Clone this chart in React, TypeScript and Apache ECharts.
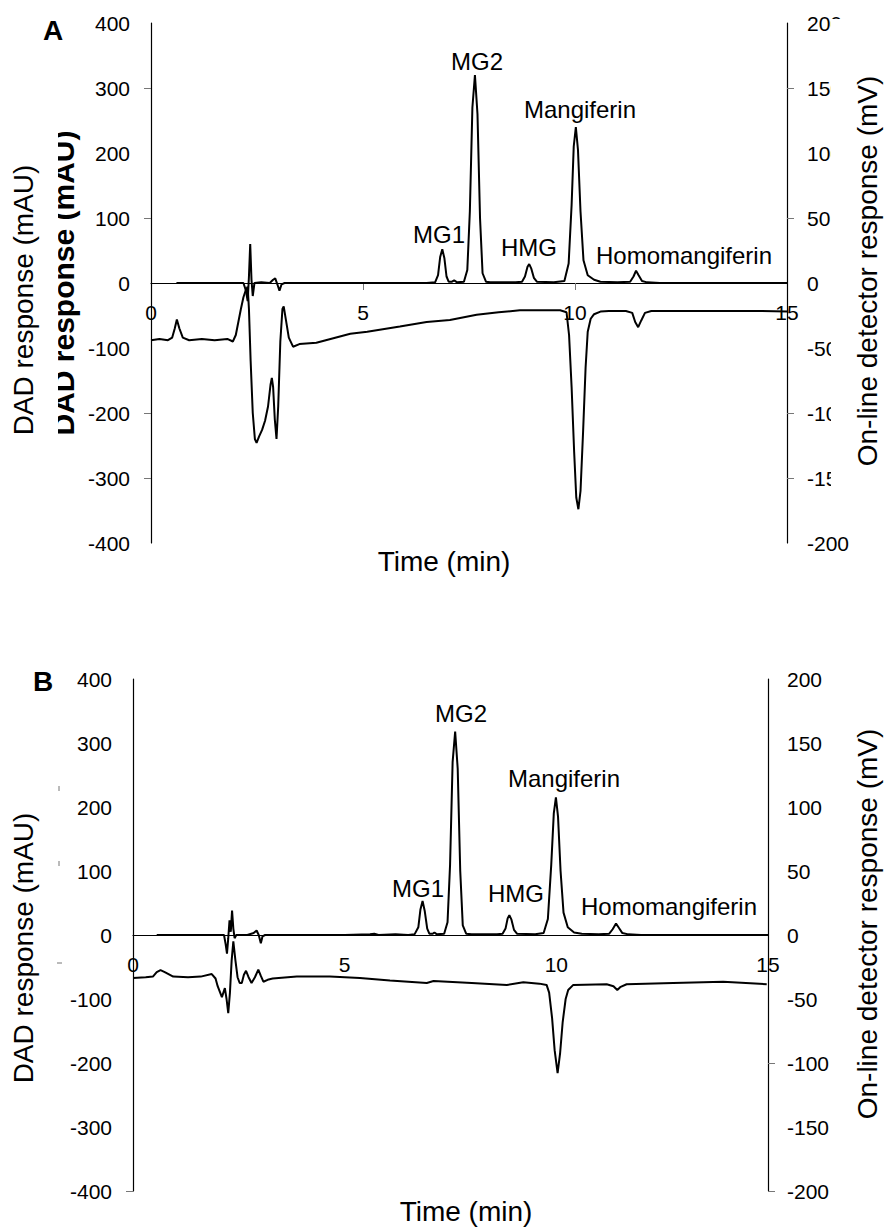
import React, { useEffect, useRef } from "react";
import * as echarts from "echarts";

// Panel A – DAD response (mAU), left axis
const dadA: [number, number][] = [
  [0.6, 0], [1.0, 0], [1.5, 0], [2.0, 0], [2.18, 0], [2.24, -12], [2.28, -28], [2.31, 10], [2.34, 60],
  [2.37, 5], [2.4, -20], [2.44, 0], [2.6, 1], [2.8, 0], [2.88, 5], [2.93, 7], [2.98, -2], [3.03, -12],
  [3.08, -2], [3.15, 0], [4, 0], [5, 0], [6, 0], [6.5, 0], [6.7, 1], [6.77, 12], [6.82, 40], [6.87, 52],
  [6.92, 38], [6.97, 10], [7.02, 2], [7.1, 2], [7.15, 4], [7.22, 1], [7.38, 2], [7.46, 20], [7.52, 110],
  [7.58, 270], [7.64, 320], [7.7, 260], [7.76, 100], [7.82, 15], [7.9, 2], [8.0, 1], [8.6, 1], [8.75, 2],
  [8.82, 10], [8.88, 25], [8.92, 29], [8.97, 22], [9.03, 8], [9.1, 2], [9.5, 1], [9.75, 3], [9.85, 30],
  [9.92, 120], [9.97, 210], [10.02, 240], [10.07, 205], [10.13, 110], [10.2, 35], [10.3, 12], [10.45, 5],
  [10.6, 2], [11.0, 1], [11.3, 2], [11.38, 10], [11.44, 19], [11.5, 12], [11.58, 3], [11.7, 1], [12, 0],
  [13, 0], [14, 0], [15, 0],
];

// Panel A – on-line detector response (mV), right axis
const detA: [number, number][] = [
  [0, -44], [0.2, -43], [0.4, -44], [0.5, -42], [0.56, -35], [0.61, -28], [0.67, -35], [0.75, -42],
  [0.9, -44], [1.2, -43], [1.5, -44], [1.8, -43], [1.93, -45], [2.0, -40], [2.06, -30], [2.12, -20],
  [2.18, -11], [2.24, -5], [2.28, -3], [2.31, -20], [2.35, -60], [2.4, -100], [2.45, -120], [2.49, -123],
  [2.55, -118], [2.62, -113], [2.69, -106], [2.76, -95], [2.82, -78], [2.85, -73], [2.88, -80], [2.92, -105],
  [2.96, -120], [3.0, -95], [3.05, -45], [3.1, -20], [3.13, -18], [3.18, -28], [3.25, -42], [3.35, -49],
  [3.5, -47], [3.9, -46], [4.3, -42.5], [4.7, -39], [5.1, -37.5], [5.87, -33.5], [6.5, -30], [7.05, -28.5],
  [7.68, -24.5], [8.2, -22.5], [8.7, -21], [9.2, -21], [9.65, -21], [9.8, -22.5], [9.86, -40], [9.92, -80],
  [9.98, -130], [10.03, -165], [10.08, -174], [10.13, -160], [10.19, -115], [10.25, -65], [10.3, -37.5],
  [10.37, -27.5], [10.45, -24], [10.6, -22], [10.8, -21.5], [11.2, -21.5], [11.35, -23], [11.42, -30],
  [11.49, -34], [11.56, -29], [11.65, -23], [11.8, -21.5], [12.5, -21.5], [13.5, -21.5], [14.3, -21.5],
  [15, -22],
];

// Panel B – DAD response (mAU), left axis
const dadB: [number, number][] = [
  [0.56, 0], [1.0, 0], [1.5, 0], [2.0, 0], [2.15, 0], [2.19, -15], [2.22, -29], [2.25, -5], [2.28, 23],
  [2.31, 5], [2.34, 38], [2.37, 10], [2.4, -5], [2.44, 0], [2.7, 0], [2.85, 3], [2.92, 7], [2.97, 0],
  [3.02, -13], [3.06, -2], [3.12, 0], [4, 0], [5, 0], [5.6, 1], [5.7, 2], [5.8, 0], [6.2, 1], [6.5, 0],
  [6.65, 1], [6.74, 12], [6.79, 40], [6.84, 53], [6.89, 38], [6.95, 10], [7.0, 2], [7.08, 2], [7.12, 4],
  [7.18, 1], [7.35, 2], [7.43, 20], [7.49, 110], [7.55, 270], [7.61, 318], [7.67, 260], [7.73, 100],
  [7.79, 15], [7.87, 2], [8.0, 1], [8.6, 1], [8.73, 2], [8.8, 10], [8.85, 26], [8.89, 31], [8.94, 24],
  [9.0, 8], [9.07, 2], [9.5, 1], [9.7, 3], [9.8, 25], [9.88, 110], [9.94, 190], [9.99, 215], [10.04, 185],
  [10.1, 100], [10.17, 35], [10.27, 12], [10.42, 4], [10.6, 2], [11.0, 1], [11.25, 2], [11.33, 9],
  [11.41, 18], [11.48, 11], [11.56, 3], [11.7, 1], [12, 0], [13, 0], [14, 0], [15, 0],
];

// Panel B – on-line detector response (mV), right axis
const detB: [number, number][] = [
  [0, -33.5], [0.3, -33], [0.47, -32.5], [0.56, -29], [0.65, -27.5], [0.75, -29], [0.95, -32.5], [1.3, -33],
  [1.6, -32.5], [1.86, -30.5], [1.95, -34], [2.0, -40], [2.1, -48.5], [2.17, -41.5], [2.21, -50], [2.25, -61],
  [2.29, -45], [2.33, -20], [2.37, -5], [2.42, -20], [2.47, -33], [2.52, -37.5], [2.57, -37.5], [2.62, -31],
  [2.67, -28], [2.73, -33], [2.8, -37.5], [2.88, -33], [2.96, -27], [3.02, -32], [3.08, -36.5], [3.18, -35],
  [3.3, -34], [3.87, -32.5], [4.65, -32.5], [5.36, -33.5], [6.07, -35.5], [6.94, -37.5], [7.1, -36],
  [8.0, -37.5], [8.83, -39], [9.22, -37], [9.6, -38], [9.77, -39], [9.83, -45], [9.9, -65], [9.96, -90],
  [10.03, -108], [10.09, -92], [10.15, -68], [10.22, -50], [10.28, -43], [10.4, -39], [11.19, -38.5],
  [11.35, -40], [11.44, -43], [11.52, -40.5], [11.66, -38.5], [12.76, -37.5], [13.94, -36.5], [14.97, -38.5],
];

const peakNames = ["MG1", "MG2", "HMG", "Mangiferin", "Homomangiferin"];

const FONT = "'Liberation Sans', Arial, sans-serif";

function xAxisDef(gridIndex: number, offset: number, ticks: number[] | null) {
  return {
    type: "value",
    gridIndex,
    min: 0,
    max: 15,
    interval: 5,
    position: "bottom",
    offset,
    axisLine: { show: true, onZero: false, lineStyle: { color: "#000", width: 1.2 } },
    axisTick: ticks
      ? { show: true, length: 7, customValues: ticks, lineStyle: { color: "#777", width: 1 } }
      : { show: false },
    axisLabel: { fontSize: 21, color: "#000", fontFamily: FONT, margin: 19 },
    splitLine: { show: false },
  };
}

function yAxisDef(gridIndex: number, pos: string, lim: number, step: number, ticks: number[], margin: number) {
  return {
    type: "value",
    gridIndex,
    position: pos,
    min: -lim,
    max: lim,
    interval: step,
    axisLine: { show: true, onZero: false, lineStyle: { color: "#000", width: 1.2 } },
    axisTick: { show: true, length: 7, customValues: ticks, lineStyle: { color: "#777", width: 1 } },
    axisLabel: { fontSize: 21, color: "#000", fontFamily: FONT, margin },
    splitLine: { show: false },
  };
}

function lineSeries(data: [number, number][], xi: number, yi: number) {
  return {
    type: "line",
    xAxisIndex: xi,
    yAxisIndex: yi,
    data,
    showSymbol: false,
    symbol: "none",
    smooth: false,
    lineStyle: { color: "#000", width: 2 },
    z: 3,
  };
}

function txt(text: string, x: number, y: number, size: number, extra: any = {}) {
  return {
    type: "text",
    x,
    y,
    z: 102,
    style: {
      text,
      fill: "#000",
      font: `${extra.bold ? "bold " : ""}${size}px ${FONT}`,
      textAlign: "center",
      textVerticalAlign: "middle",
    },
    ...(extra.rotation ? { rotation: extra.rotation } : {}),
    ...(extra.z ? { z: extra.z } : {}),
  };
}

export default function App() {
  const ref = useRef<HTMLDivElement>(null);
  useEffect(() => {
    if (!ref.current) return;
    const chart = echarts.init(ref.current, null, { renderer: "svg" });
    const R = Math.PI / 2;
    const option: any = {
      animation: false,
      backgroundColor: "#fff",
      grid: [
        { left: 151, top: 23, width: 636, height: 520 },
        { left: 133, top: 679, width: 635, height: 512 },
      ],
      // x axes sit on the zero line of their panel (half of the plot height above the bottom)
      xAxis: [xAxisDef(0, -260, [5, 10]), xAxisDef(1, -256, null)],
      yAxis: [
        yAxisDef(0, "left", 400, 100, [300, 100, -200, -300], 21),
        yAxisDef(0, "right", 200, 50, [150, 50, -100, -150], 20),
        yAxisDef(1, "left", 400, 100, [-400], 21),
        yAxisDef(1, "right", 200, 50, [-100, -200], 19),
      ],
      series: [
        lineSeries(dadA, 0, 0),
        lineSeries(detA, 0, 1),
        lineSeries(dadB, 1, 2),
        lineSeries(detB, 1, 3),
      ],
      graphic: [
        // panel letters
        txt("A", 53, 30, 28, { bold: true }),
        txt("B", 43, 681, 28, { bold: true }),
        // panel A left title: ghost bold copy partly hidden
        txt("DAD response (mAU)", 63, 283, 30, { bold: true, rotation: R, z: 100 }),
        { type: "rect", z: 101, shape: { x: 0, y: 110, width: 58, height: 350 }, style: { fill: "#fff" } },
        txt("DAD response (mAU)", 23, 300, 28, { rotation: R }),
        // panel A right title with white box clipping tick labels
        { type: "rect", z: 101, shape: { x: 831, y: 19, width: 54, height: 478 }, style: { fill: "#fff" } },
        txt("On-line detector response (mV)", 867, 271, 28, { rotation: R }),
        txt("Time (min)", 444, 561, 28),
        // panel B titles
        txt("DAD response (mAU)", 23, 948, 28, { rotation: R }),
        txt("On-line detector response (mV)", 867, 924, 28, { rotation: R }),
        txt("Time (min)", 466, 1211, 28),
        // peak labels A
        txt(peakNames[0], 439, 234, 24),
        txt(peakNames[1], 477, 61, 24),
        txt(peakNames[2], 529, 247, 24),
        txt(peakNames[3], 580, 109, 24),
        txt(peakNames[4], 684, 255, 24),
        // peak labels B
        txt(peakNames[0], 418, 888, 24),
        txt(peakNames[1], 461, 713, 24),
        txt(peakNames[2], 516, 893, 24),
        txt(peakNames[3], 564, 778, 24),
        txt(peakNames[4], 669, 906, 24),
        // small stray marks in panel B
        { type: "line", z: 101, shape: { x1: 59, y1: 786, x2: 59, y2: 791 }, style: { stroke: "#777", lineWidth: 1 } },
        { type: "line", z: 101, shape: { x1: 59, y1: 861, x2: 59, y2: 866 }, style: { stroke: "#777", lineWidth: 1 } },
        { type: "line", z: 101, shape: { x1: 57, y1: 963, x2: 62, y2: 963 }, style: { stroke: "#777", lineWidth: 1 } },
      ],
    };
    chart.setOption(option);
    return () => chart.dispose();
  }, []);
  return (
    <div
      ref={ref}
      style={{ position: "absolute", left: 0, top: 0, width: 885, height: 1228, background: "#fff" }}
    />
  );
}
